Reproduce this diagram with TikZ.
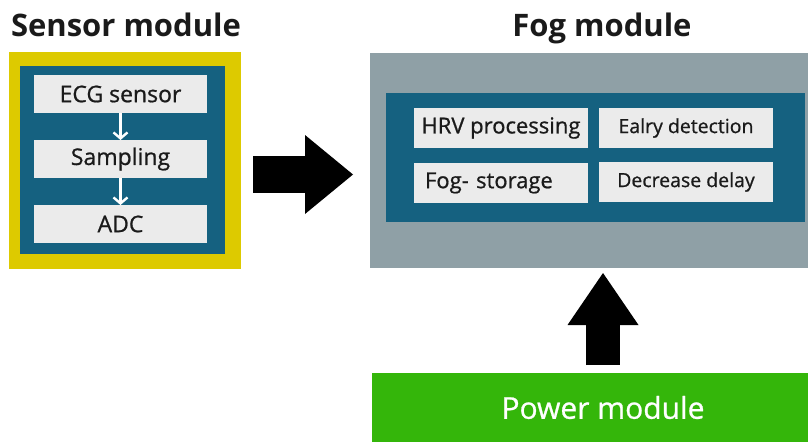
\documentclass[tikz,border=0pt]{standalone}
\usepackage{fontspec}
\setmainfont{Open Sans}
\newfontfamily\itemfont{Open Sans}[FakeBold=0.8]
\usetikzlibrary{arrows.meta,positioning}
\definecolor{modyellow}{RGB}{221,202,0}
\definecolor{modblue}{RGB}{21,97,128}
\definecolor{modgray}{RGB}{143,160,166}
\definecolor{modlight}{RGB}{235,235,235}
\definecolor{modgreen}{RGB}{52,182,10}
\definecolor{modtext}{RGB}{26,26,26}
\begin{document}
\begin{tikzpicture}[x=1pt,y=-1pt,
    box/.style={inner sep=0pt, outer sep=0pt},
    item/.style={box, fill=modlight, text=modtext, minimum width=173pt, minimum height=38pt, font=\itemfont\fontsize{23}{24}\selectfont},
    smallitem/.style={item, minimum width=174pt, minimum height=40pt, font=\itemfont\fontsize{19.5}{22}\selectfont},
    title/.style={anchor=base, text=modtext, font=\fontsize{31}{36}\selectfont\bfseries},
    flow/.style={draw=white, line width=2.4pt, -{Straight Barb[length=6pt,width=14pt,line width=2.4pt]}},
    bigarrow/.style={draw=black, line width=37pt}]

    \useasboundingbox (0,0) rectangle (808,442);

    % sensor module
    \node[title] (sensortitle) at (126,36) {Sensor module};
    \node[box, fill=modyellow, minimum width=232pt, minimum height=217pt] (sensor) at (125,160.5) {};
    \node[box, fill=modblue, minimum width=205pt, minimum height=188pt] (sensorin) at (122.5,160) {};
    \node[item] (ecg) at (120.5,94) {ECG sensor};
    \node[item] (sampling) at (120.5,159) {Sampling};
    \node[item] (adc) at (120.5,224) {ADC};
    \draw[flow] (ecg) -- (sampling);
    \draw[flow] (sampling) -- (adc);

    % fog module
    \node[title] (fogtitle) at (602,36) {Fog module};
    \node[box, fill=modgray, minimum width=466pt, minimum height=215pt] (fog) at (603,160.5) {};
    \node[box, fill=modblue, minimum width=419pt, minimum height=129pt] (fogin) at (595.5,157.5) {};
    \node[smallitem, font=\itemfont\fontsize{22}{24}\selectfont] (hrv) at (501,128) {HRV processing};
    \node[smallitem] (early) at (686,128) {Ealry detection};
    \node[smallitem, font=\itemfont\fontsize{22}{24}\selectfont, text width=152pt, inner xsep=11pt, align=left] (storage) at (501,183) {Fog- storage};
    \node[smallitem] (delay) at (686,182) {Decrease delay};

    % power module
    \node[box, fill=modgreen, text=white, minimum width=462pt, minimum height=69pt, font=\itemfont\fontsize{30}{34}\selectfont] (power) at (603,407.5) {Power module};

    \draw[bigarrow, shorten <=12pt, shorten >=17pt, -{Triangle[length=48pt,width=79pt,line width=0pt]}]
        ([yshift=-14pt]sensor.east) -- ([yshift=-14pt]fog.west);
    \draw[bigarrow, line width=34pt, shorten <=8pt, shorten >=5pt, -{Triangle[length=52pt,width=71pt,line width=0pt]}]
        (power.north) -- (fog.south);
\end{tikzpicture}
\end{document}
